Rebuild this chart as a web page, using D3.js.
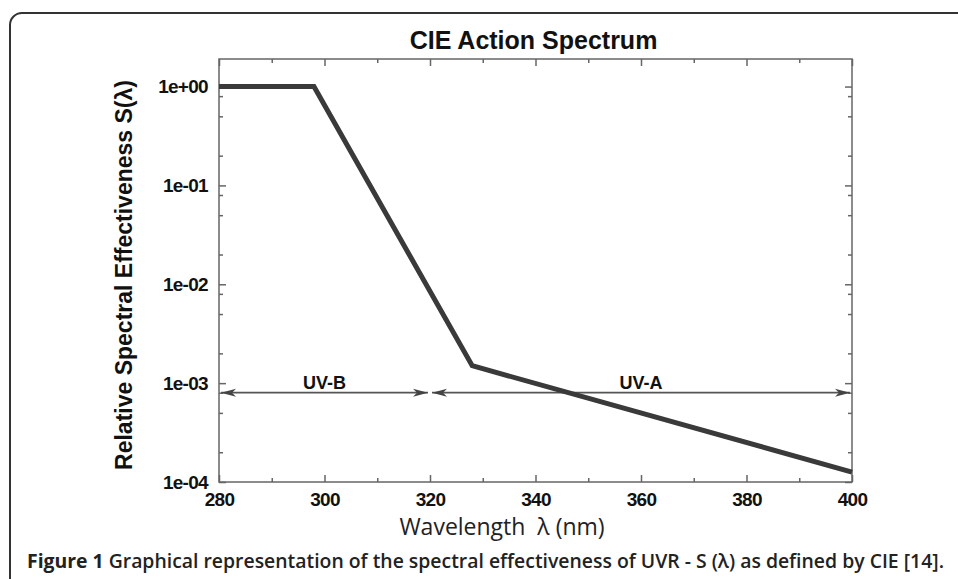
<!DOCTYPE html>
<html>
<head>
<meta charset="utf-8">
<script src="https://cdn.jsdelivr.net/npm/d3@7"></script>
<style>
body { margin: 0; background: #fff; }
.axis text { font-family: "Liberation Sans", Arial, sans-serif; font-weight: bold; font-size: 19px; fill: #111; letter-spacing: -0.7px; }
.axis line { stroke: #666; stroke-width: 1.5; }
.axis path { display: none; }
</style>
</head>
<body>
<svg id="chart" width="958" height="579"></svg>
<script>
// CIE action spectrum
var wavelength = [280, 298, 328, 400];
var effectiveness = [1, 1, 0.0015, 0.000126];

var xTicks = [280, 300, 320, 340, 360, 380, 400];
var xMinorTicks = [290, 310, 330, 350, 370, 390];
var yTicks = [1e-4, 1e-3, 1e-2, 1e-1, 1];
var yMinorTicks = [2e-4, 5e-4, 8e-4, 2e-3, 5e-3, 8e-3, 2e-2, 5e-2, 8e-2, 2e-1, 5e-1, 8e-1];

var bandNames = ["UV-B", "UV-A"];
var bandStart = [280, 320];
var bandEnd = [320, 400];
var bandLabelAt = [300, 360];
var bandLevel = 8e-4;

var svg = d3.select('#chart'),
    WIDTH = 958, HEIGHT = 579,
    PLOT = { left: 219, right: 852, top: 59, bottom: 482 };

var xScale = d3.scaleLinear().domain([280, 400]).range([PLOT.left, PLOT.right]);
var yScale = d3.scaleLog().domain([1e-4, 1.9]).range([PLOT.bottom, PLOT.top]);

function expFormat(d) {
    var e = Math.round(Math.log10(d));
    var s = e < 0 ? "-" : "+";
    var a = Math.abs(e);
    return "1e" + s + (a < 10 ? "0" + a : a);
}

svg.append("rect")
   .attr("width", WIDTH).attr("height", HEIGHT)
   .attr("fill", "#fff");

// figure border
svg.append("rect")
   .attr("x", 10).attr("y", 13)
   .attr("width", 1000).attr("height", 700)
   .attr("rx", 12)
   .attr("fill", "none")
   .attr("stroke", "#333")
   .attr("stroke-width", 2);

// axes, ticks inward
svg.append("g").attr("class", "axis")
   .attr("transform", "translate(0," + PLOT.bottom + ")")
   .call(d3.axisBottom(xScale).tickValues(xTicks).tickSizeInner(-7).tickSizeOuter(0).tickPadding(11));
svg.append("g").attr("class", "axis")
   .attr("transform", "translate(0," + PLOT.bottom + ")")
   .call(d3.axisBottom(xScale).tickValues(xMinorTicks).tickSizeInner(-4).tickSizeOuter(0).tickFormat(""));
svg.append("g").attr("class", "axis")
   .attr("transform", "translate(0," + PLOT.top + ")")
   .call(d3.axisTop(xScale).tickValues(xTicks).tickSizeInner(-7).tickSizeOuter(0).tickFormat(""));
svg.append("g").attr("class", "axis")
   .attr("transform", "translate(0," + PLOT.top + ")")
   .call(d3.axisTop(xScale).tickValues(xMinorTicks).tickSizeInner(-4).tickSizeOuter(0).tickFormat(""));

svg.append("g").attr("class", "axis")
   .attr("transform", "translate(" + PLOT.left + ",0)")
   .call(d3.axisLeft(yScale).tickValues(yTicks).tickSizeInner(-7).tickSizeOuter(0).tickPadding(11).tickFormat(expFormat));
svg.append("g").attr("class", "axis")
   .attr("transform", "translate(" + PLOT.left + ",0)")
   .call(d3.axisLeft(yScale).tickValues(yMinorTicks).tickSizeInner(-4).tickSizeOuter(0).tickFormat(""));
svg.append("g").attr("class", "axis")
   .attr("transform", "translate(" + PLOT.right + ",0)")
   .call(d3.axisRight(yScale).tickValues(yTicks).tickSizeInner(-7).tickSizeOuter(0).tickFormat(""));
svg.append("g").attr("class", "axis")
   .attr("transform", "translate(" + PLOT.right + ",0)")
   .call(d3.axisRight(yScale).tickValues(yMinorTicks).tickSizeInner(-4).tickSizeOuter(0).tickFormat(""));

svg.append("rect")
   .attr("x", PLOT.left).attr("y", PLOT.top)
   .attr("width", PLOT.right - PLOT.left).attr("height", PLOT.bottom - PLOT.top)
   .attr("fill", "none")
   .attr("stroke", "#666")
   .attr("stroke-width", 1.5);

// arrow heads
svg.append("defs").append("marker")
   .attr("id", "head")
   .attr("markerUnits", "userSpaceOnUse")
   .attr("viewBox", "-17 -6 18 12")
   .attr("markerWidth", 18).attr("markerHeight", 12)
   .attr("refX", 0).attr("refY", 0)
   .attr("orient", "auto-start-reverse")
   .append("path")
   .attr("d", "M0,0L-15,-4L-11,0L-15,4Z")
   .attr("fill", "#444");

var bands = bandNames.map(function(n, i) {
    return { name: n, start: bandStart[i], end: bandEnd[i], at: bandLabelAt[i] };
});

svg.selectAll(".band")
   .data(bands)
   .enter().append("line")
   .attr("class", "band")
   .attr("x1", function(d) { return xScale(d.start) + 2; })
   .attr("x2", function(d) { return xScale(d.end) - 2; })
   .attr("y1", yScale(bandLevel))
   .attr("y2", yScale(bandLevel))
   .attr("stroke", "#555")
   .attr("stroke-width", 1.8)
   .attr("marker-start", "url(#head)")
   .attr("marker-end", "url(#head)");

svg.selectAll(".bandLabel")
   .data(bands)
   .enter().append("text")
   .attr("class", "bandLabel")
   .attr("x", function(d) { return xScale(d.at); })
   .attr("y", yScale(bandLevel) - 4)
   .attr("text-anchor", "middle")
   .style("font-family", "'Liberation Sans', Arial, sans-serif")
   .style("font-weight", "bold")
   .style("font-size", "18px")
   .style("fill", "#111")
   .text(function(d) { return d.name; });

// spectrum
var lineGen = d3.line()
    .x(function(d) { return xScale(d[0]); })
    .y(function(d) { return yScale(d[1]); });

svg.append("path")
   .attr("d", lineGen(d3.zip(wavelength, effectiveness)))
   .attr("fill", "none")
   .attr("stroke", "#3a3a3a")
   .attr("stroke-width", 5)
   .attr("stroke-linejoin", "miter");

// titles
svg.append("text")
   .attr("x", (PLOT.left + PLOT.right) / 2 - 2).attr("y", 49)
   .attr("text-anchor", "middle")
   .style("font-family", "'Liberation Sans', Arial, sans-serif")
   .style("font-weight", "bold")
   .style("font-size", "25px")
   .style("fill", "#111")
   .text("CIE Action Spectrum");

svg.append("text")
   .attr("transform", "translate(132,275) rotate(-90)")
   .attr("text-anchor", "middle")
   .style("font-family", "'Liberation Sans', Arial, sans-serif")
   .style("font-weight", "bold")
   .style("font-size", "23px")
   .style("fill", "#111")
   .text("Relative Spectral Effectiveness S(λ)");

svg.append("text")
   .attr("x", 502).attr("y", 535)
   .attr("text-anchor", "middle")
   .style("font-family", "'Open Sans', sans-serif")
   .style("font-size", "23px")
   .style("fill", "#222")
   .style("white-space", "pre")
   .text("Wavelength  λ (nm)");

var caption = svg.append("text")
   .attr("x", 27).attr("y", 568)
   .style("font-family", "'Open Sans', sans-serif")
   .style("font-size", "19.4px")
   .style("fill", "#222");
caption.append("tspan").style("font-weight", "bold").text("Figure 1 ");
caption.append("tspan").style("font-weight", "600")
   .text("Graphical representation of the spectral effectiveness of UVR - S (λ) as defined by CIE [14].");
</script>
</body>
</html>
